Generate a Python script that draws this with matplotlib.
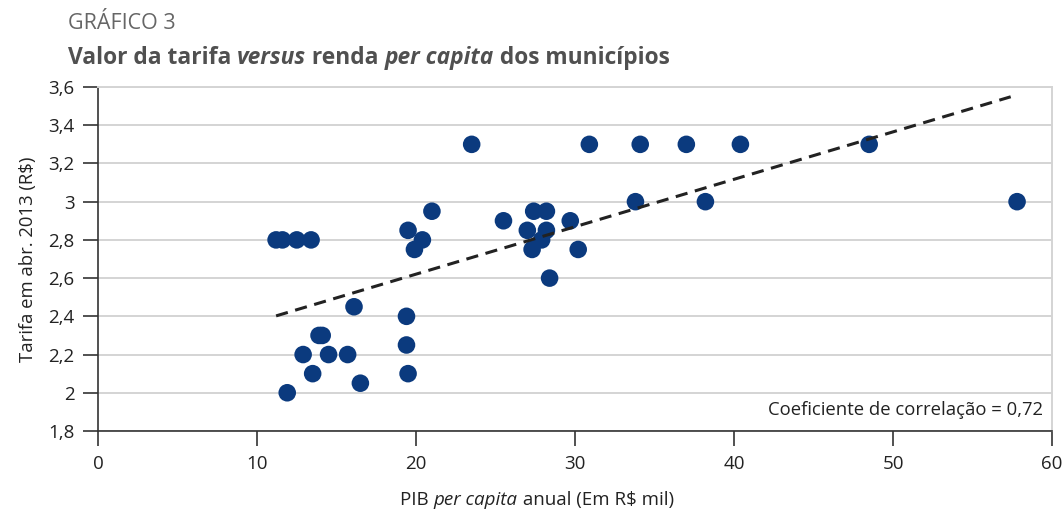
import matplotlib.pyplot as plt
import numpy as np
from matplotlib.ticker import FuncFormatter, MultipleLocator

# PIB per capita (R$ mil) e tarifa (R$) dos municípios
pib_per_capita = [11.2, 11.6, 12.5, 13.4, 11.9, 12.9, 13.5, 13.9, 14.1, 14.5,
                  15.7, 16.1, 16.5, 19.4, 19.4, 19.5, 19.5, 19.9, 20.4, 21.0,
                  23.5, 25.5, 27.0, 27.4, 27.3, 27.9, 28.2, 28.2, 28.4, 29.7,
                  30.2, 30.9, 33.8, 34.1, 37.0, 38.2, 40.4, 48.5, 57.8]
tarifa = [2.80, 2.80, 2.80, 2.80, 2.00, 2.20, 2.10, 2.30, 2.30, 2.20,
          2.20, 2.45, 2.05, 2.40, 2.25, 2.10, 2.85, 2.75, 2.80, 2.95,
          3.30, 2.90, 2.85, 2.95, 2.75, 2.80, 2.85, 2.95, 2.60, 2.90,
          2.75, 3.30, 3.00, 3.30, 3.30, 3.00, 3.30, 3.30, 3.00]
correlacao = "0,72"

plt.rcParams["font.family"] = ["Open Sans", "Noto Sans", "DejaVu Sans"]

fig = plt.figure(figsize=(10.63, 5.11), dpi=100)
ax = fig.add_axes([0.0922, 0.1566, 0.8975, 0.6731])

ax.scatter(pib_per_capita, tarifa, s=160, color="#0b3a7e", edgecolors="none", zorder=3)

# Linha de tendência (mínimos quadrados)
coef = np.polyfit(pib_per_capita, tarifa, 1)
xs = np.array([min(pib_per_capita), max(pib_per_capita) - 0.4])
ax.plot(xs, np.polyval(coef, xs), linestyle=(0, (4, 2.5)), color="#222222", lw=2.2, zorder=4)

ax.set_xlim(0, 60)
ax.set_ylim(1.8, 3.6)
ax.xaxis.set_major_locator(MultipleLocator(10))
ax.yaxis.set_major_locator(MultipleLocator(0.2))
ax.yaxis.set_major_formatter(FuncFormatter(lambda v, p: f"{v:.1f}".rstrip("0").rstrip(".").replace(".", ",")))

ax.grid(axis="y", color="#d4d4d4", lw=1.4, zorder=0)
ax.set_axisbelow(True)
for s in ["top", "right"]:
    ax.spines[s].set_color("#d4d4d4")
    ax.spines[s].set_linewidth(1.4)
for s in ["left", "bottom"]:
    ax.spines[s].set_color("#333333")
    ax.spines[s].set_linewidth(1.2)
ax.tick_params(direction="out", length=11, width=1.2, color="#333333",
               labelsize=13.5, labelcolor="#222222", pad=6)

ax.set_ylabel("Tarifa em abr. 2013 (R$)", fontsize=13.3, color="#222222", labelpad=8)

ax.text(0.99, 0.035, f"Coeficiente de correlação = {correlacao}", transform=ax.transAxes,
        ha="right", va="bottom", fontsize=13.3, color="#222222")


def texto_misto(fig, x, y, partes, **kw):
    # escreve trechos lado a lado, alternando estilos
    r = fig.canvas.get_renderer()
    for txt, estilo in partes:
        t = fig.text(x, y, txt, transform=None, **estilo, **kw)
        bb = t.get_window_extent(renderer=r)
        x = bb.x1


fig.canvas.draw()
H = fig.bbox.height

fig.text(68, H - 29, "GRÁFICO 3", transform=None, fontsize=15.5, color="#666666",
         va="baseline")

bold = dict(fontweight="bold")
bolditalic = dict(fontweight="bold", style="italic")
texto_misto(fig, 68, H - 64, [("Valor da tarifa ", bold), ("versus", bolditalic),
                              (" renda ", bold), ("per capita", bolditalic),
                              (" dos municípios", bold)],
            fontsize=16.4, color="#505050", va="baseline")

# rótulo do eixo x centralizado
r = fig.canvas.get_renderer()
partes = [("PIB ", {}), ("per capita", dict(style="italic")), (" anual (Em R$ mil)", {})]
largura = 0
for txt, est in partes:
    t = fig.text(0, 0, txt, fontsize=13.5, **est)
    largura += t.get_window_extent(renderer=r).width
    t.remove()
texto_misto(fig, 537 - largura / 2, H - 505, partes, fontsize=13.5, color="#222222",
            va="baseline")

fig.savefig("out.png", dpi=100)
